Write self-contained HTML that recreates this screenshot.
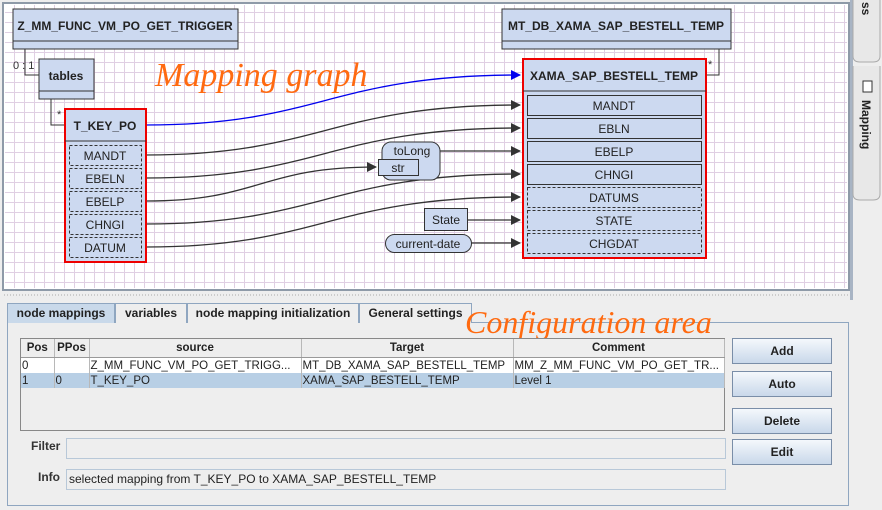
<!DOCTYPE html>
<html><head><meta charset="utf-8"><style>
body{margin:0;width:882px;height:510px;background:#eeeeee;font-family:"Liberation Sans",sans-serif;position:relative;overflow:hidden}
.a{position:absolute}
.tab{position:absolute;top:303px;height:19px;border:1px solid #8fa6c0;border-bottom:none;background:#eeeeee;font:bold 12px "Liberation Sans",sans-serif;line-height:19px;text-align:center;color:#222}
.btn{position:absolute;left:732px;width:98px;height:24px;border:1px solid #7a8ea8;background:linear-gradient(#f4f8fc,#c9d8ea);font:bold 12px "Liberation Sans",sans-serif;text-align:center;line-height:24px;color:#222}
td{font-size:11.5px;padding:0 1px;border-right:1px solid #b8b8b8;height:15px;white-space:nowrap;overflow:hidden;color:#222}
</style></head><body>
<svg class="a" style="left:0;top:0" width="882" height="300">
<defs>
<pattern id="g" width="10" height="10" patternUnits="userSpaceOnUse" x="5" y="3"><path d="M9.5 0V10M0 9.5H10" stroke="#e0cfe3" stroke-width="1" fill="none"/></pattern>
<marker id="ar" markerWidth="10" markerHeight="10" refX="9" refY="5" orient="auto" markerUnits="userSpaceOnUse"><path d="M0 0L10 5L0 10z" fill="#333"/></marker>
<marker id="ab" markerWidth="10" markerHeight="10" refX="9" refY="5" orient="auto" markerUnits="userSpaceOnUse"><path d="M0 0L10 5L0 10z" fill="#0000ee"/></marker>
</defs>
<rect x="0" y="0" width="882" height="300" fill="#eeeeee"/>
<rect x="3" y="3" width="846" height="287" fill="#fff" stroke="#8e9aa8" stroke-width="2"/>
<rect x="5" y="5" width="842" height="283" fill="url(#g)"/>
<line x1="4" y1="295" x2="848" y2="295" stroke="#aaa" stroke-dasharray="1,2"/>
<rect x="850" y="0" width="3" height="510" fill="#a8b4c4"/>
<path d="M853 0V56Q853 62 860 62H873Q880 62 880 56V0" fill="#e8e8e8" stroke="#aaa"/>
<path d="M853 66V194Q853 200 860 200H873Q880 200 880 194V66" fill="#e8e8e8" stroke="#aaa"/>
<text x="862" y="2" transform="rotate(90 862 2)" font-size="12" font-weight="bold" fill="#222">ss</text>
<text x="862" y="100" transform="rotate(90 862 100)" font-size="12" font-weight="bold" fill="#222">Mapping</text>
<rect x="863" y="81" width="9" height="11" fill="#fff" stroke="#333"/>
<text x="155" y="86" font-family="Liberation Serif" font-style="italic" font-size="34" fill="#ff6a10">Mapping graph</text>
<path d="M25 49V75H39M51 99V125H64M719 49V75H706" fill="none" stroke="#333"/>
<text x="13" y="69" font-size="11" fill="#333">0 : 1</text>
<text x="57" y="118" font-size="11" fill="#333">*</text>
<text x="708" y="68" font-size="11" fill="#333">*</text>
<g fill="none" stroke="#333" stroke-width="1.3">
<path d="M146 125C320 125 330 75 520 75" stroke="#0000ee" marker-end="url(#ab)"/>
<path d="M146 155C320 155 330 105 520 105" marker-end="url(#ar)"/>
<path d="M146 178C320 178 330 128 520 128" marker-end="url(#ar)"/>
<path d="M146 201C260 201 260 167 376 167" marker-end="url(#ar)"/>
<path d="M440 151H520" marker-end="url(#ar)"/>
<path d="M146 224C320 224 330 174 520 174" marker-end="url(#ar)"/>
<path d="M146 247C320 247 330 197 520 197" marker-end="url(#ar)"/>
<path d="M467 220H520" marker-end="url(#ar)"/>
<path d="M471 243H520" marker-end="url(#ar)"/>
</g>
<g font-size="12" fill="#222" text-anchor="middle">
<rect x="13" y="9" width="225" height="40" fill="#ccd9f0" stroke="#333"/><line x1="13" y1="41" x2="238" y2="41" stroke="#333"/>
<text x="125" y="30" font-weight="bold">Z_MM_FUNC_VM_PO_GET_TRIGGER</text>
<rect x="39" y="59" width="55" height="40" fill="#ccd9f0" stroke="#333"/><line x1="39" y1="91" x2="94" y2="91" stroke="#333"/>
<text x="66" y="80" font-weight="bold">tables</text>
<rect x="65" y="109" width="81" height="153" fill="#ccd9f0" stroke="#e00" stroke-width="2"/><line x1="65" y1="141" x2="146" y2="141" stroke="#333"/>
<text x="105" y="130" font-weight="bold">T_KEY_PO</text>
<g stroke="#333" stroke-dasharray="3,2" fill="none">
<rect x="69.5" y="145.5" width="72" height="20"/><rect x="69.5" y="168.5" width="72" height="20"/><rect x="69.5" y="191.5" width="72" height="20"/><rect x="69.5" y="214.5" width="72" height="20"/><rect x="69.5" y="237.5" width="72" height="20"/>
</g>
<text x="105" y="160">MANDT</text><text x="105" y="183">EBELN</text><text x="105" y="206">EBELP</text><text x="105" y="229">CHNGI</text><text x="105" y="252">DATUM</text>
<rect x="502" y="9" width="229" height="40" fill="#ccd9f0" stroke="#333"/><line x1="502" y1="41" x2="731" y2="41" stroke="#333"/>
<text x="616" y="30" font-weight="bold">MT_DB_XAMA_SAP_BESTELL_TEMP</text>
<rect x="523" y="59" width="183" height="199" fill="#ccd9f0" stroke="#e00" stroke-width="2"/><line x1="523" y1="91" x2="706" y2="91" stroke="#333"/>
<text x="614" y="80" font-weight="bold">XAMA_SAP_BESTELL_TEMP</text>
<g stroke="#333" fill="none">
<rect x="527.5" y="95.5" width="174" height="20"/><rect x="527.5" y="118.5" width="174" height="20"/><rect x="527.5" y="141.5" width="174" height="20"/><rect x="527.5" y="164.5" width="174" height="20"/>
<g stroke-dasharray="3,2"><rect x="527.5" y="187.5" width="174" height="20"/><rect x="527.5" y="210.5" width="174" height="20"/><rect x="527.5" y="233.5" width="174" height="20"/></g>
</g>
<text x="614" y="110">MANDT</text><text x="614" y="133">EBLN</text><text x="614" y="156">EBELP</text><text x="614" y="179">CHNGI</text><text x="614" y="202">DATUMS</text><text x="614" y="225">STATE</text><text x="614" y="248">CHGDAT</text>
<rect x="382" y="142" width="58" height="38" rx="9" fill="#ccd9f0" stroke="#333"/>
<text x="412" y="155">toLong</text>
<rect x="378.5" y="159.5" width="40" height="16" fill="#ccd9f0" stroke="#333"/>
<text x="398" y="172">str</text>
<rect x="424.5" y="208.5" width="43" height="22" fill="#ccd9f0" stroke="#333"/>
<text x="446" y="224">State</text>
<rect x="385.5" y="234.5" width="86" height="18" rx="9" fill="#ccd9f0" stroke="#333"/>
<text x="428" y="248">current-date</text>
</g>
</svg>
<div class="a" style="left:7px;top:322px;width:840px;height:182px;border:1px solid #8fa6c0;background:#eeeeee"></div>
<div class="tab" style="left:7px;width:106px;background:#c9d9ea">node mappings</div>
<div class="tab" style="left:115px;width:70px">variables</div>
<div class="tab" style="left:187px;width:170px">node mapping initialization</div>
<div class="tab" style="left:359px;width:111px">General settings</div>
<div class="a" style="left:465px;top:304px;font:italic 32px 'Liberation Serif',serif;color:#ff6a10">Configuration area</div>
<div class="a" style="left:20px;top:338px;width:703px;height:91px;border:1px solid #888;background:#eeeeee">
<table style="border-collapse:collapse;width:703px;table-layout:fixed" cellspacing="0">
<colgroup><col style="width:33px"><col style="width:35px"><col style="width:212px"><col style="width:212px"><col style="width:211px"></colgroup>
<tr style="background:#eeeeee;font-weight:bold;text-align:center"><td style="height:18px;border-bottom:1px solid #999">Pos</td><td style="border-bottom:1px solid #999">PPos</td><td style="border-bottom:1px solid #999">source</td><td style="border-bottom:1px solid #999">Target</td><td style="border-bottom:1px solid #999">Comment</td></tr>
<tr style="background:#fff"><td>0</td><td></td><td>Z_MM_FUNC_VM_PO_GET_TRIGG...</td><td>MT_DB_XAMA_SAP_BESTELL_TEMP</td><td>MM_Z_MM_FUNC_VM_PO_GET_TR...</td></tr>
<tr style="background:#b8cfe5"><td>1</td><td>0</td><td>T_KEY_PO</td><td>XAMA_SAP_BESTELL_TEMP</td><td>Level 1</td></tr>
</table></div>
<div class="btn" style="top:338px">Add</div>
<div class="btn" style="top:371px">Auto</div>
<div class="btn" style="top:408px">Delete</div>
<div class="btn" style="top:439px">Edit</div>
<div class="a" style="left:31px;top:439px;font:bold 12px 'Liberation Sans';color:#333">Filter</div>
<div class="a" style="left:66px;top:438px;width:658px;height:19px;border:1px solid #b8c8d8;background:#eeeeee"></div>
<div class="a" style="left:38px;top:470px;font:bold 12px 'Liberation Sans';color:#333">Info</div>
<div class="a" style="left:66px;top:469px;width:658px;height:19px;border:1px solid #b8c8d8;background:#eeeeee;font-size:12px;line-height:19px;color:#222;text-indent:2px">selected mapping from T_KEY_PO to XAMA_SAP_BESTELL_TEMP</div>
</body></html>
